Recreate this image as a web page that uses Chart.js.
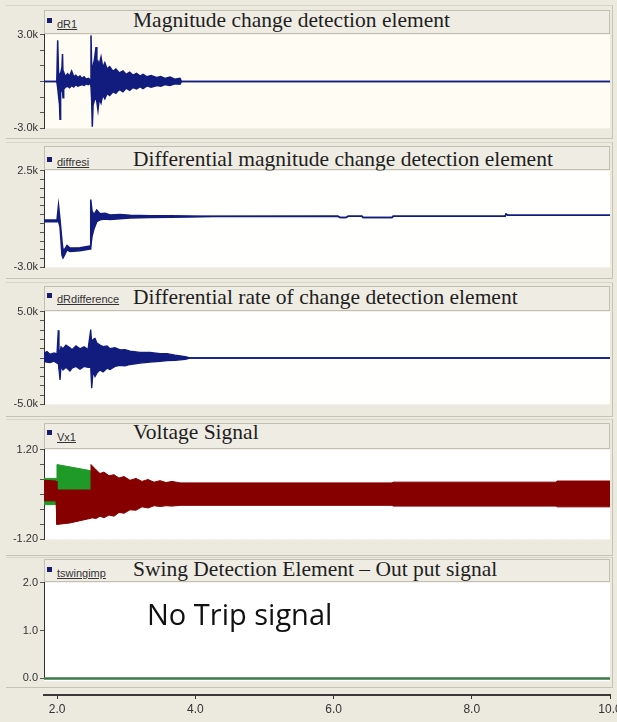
<!DOCTYPE html>
<html><head><meta charset="utf-8">
<script src="https://cdn.jsdelivr.net/npm/chart.js@4/dist/chart.umd.min.js"></script>
<style>
html,body{margin:0;padding:0;width:617px;height:722px;overflow:hidden;background:#ece9de;position:relative}
.frame{position:absolute;left:6px;width:607px;border-top:1px solid #d8d4c8;border-bottom:1px solid #c6c2b5;border-right:1px solid #c6c2b5;box-sizing:border-box}
.hdr{position:absolute;left:44px;width:566px;background:#efece4;border:1px solid #c2beb2;box-sizing:border-box}
.mark{position:absolute;left:47px;width:5px;height:5px;background:#1a1a70}
.leg{position:absolute;left:57px;font:11px 'Liberation Sans',Arial,sans-serif;line-height:11px;color:#333;text-decoration:underline;white-space:nowrap}
.title{position:absolute;left:133px;font:21.5px 'Liberation Serif','Times New Roman',serif;line-height:21.5px;color:#1e1e1e;white-space:nowrap}
.note{position:absolute;left:147px;top:599px;font:29px 'Open Sans',sans-serif;line-height:29px;color:#111;white-space:nowrap}
canvas{position:absolute;left:0}
</style>
</head><body>
<div class="frame" style="top:5px;height:134px"></div>
<div class="frame" style="top:142px;height:137px"></div>
<div class="frame" style="top:282px;height:135px"></div>
<div class="frame" style="top:419px;height:137px"></div>
<div class="frame" style="top:557px;height:131px"></div>

<div class="hdr" style="top:10px;height:24px"></div>
<div class="hdr" style="top:146px;height:24px"></div>
<div class="hdr" style="top:286px;height:25px"></div>
<div class="hdr" style="top:423px;height:26px"></div>
<div class="hdr" style="top:559px;height:23px"></div>

<div class="mark" style="top:18px"></div><div class="leg" style="top:19px">dR1</div>
<div class="title" style="top:10px">Magnitude change detection element</div>
<div class="mark" style="top:157px"></div><div class="leg" style="top:157px">diffresi</div>
<div class="title" style="top:149px">Differential magnitude change detection element</div>
<div class="mark" style="top:293px"></div><div class="leg" style="top:294px">dRdifference</div>
<div class="title" style="top:287px">Differential rate of change detection element</div>
<div class="mark" style="top:430px"></div><div class="leg" style="top:432px">Vx1</div>
<div class="title" style="top:422px">Voltage Signal</div>
<div class="mark" style="top:567px"></div><div class="leg" style="top:568px">tswingimp</div>
<div class="title" style="top:559px">Swing Detection Element – Out put signal</div>

<script>
// ---------------- DATA ----------------
const xMin = 1.81, xMax = 10.0;
const xTickValues = [2, 4, 6, 8, 10];
const xTickLabels = ['2.0', '4.0', '6.0', '8.0', '10.0'];

// Panel 1: dR1 (envelope of the oscillating trace)
const dR1Time  = [1.81, 1.995, 2.008, 2.02, 2.035, 2.042, 2.05, 2.07, 2.078, 2.085, 2.095, 2.12, 2.15, 2.18, 2.21, 2.24, 2.27, 2.30, 2.33, 2.36, 2.39, 2.42, 2.45, 2.48, 2.49, 2.50, 2.509, 2.52, 2.54, 2.563, 2.575, 2.591, 2.61, 2.635, 2.66, 2.69, 2.722, 2.76, 2.809, 2.85, 2.90, 2.953, 3.00, 3.05, 3.098, 3.15, 3.20, 3.243, 3.30, 3.36, 3.445, 3.50, 3.56, 3.634, 3.70, 3.778, 3.80, 10.0];
const dR1Upper = [0, 0, 2630, 600, 400, 300, 500, 900, 1760, 400, 600, 300, 500, 350, 670, 300, 400, 250, 350, 200, 300, 150, 200, 100, 2950, 800, 500, 1000, 1400, 2200, 1200, 1300, 1100, 1560, 900, 1200, 800, 950, 650, 800, 550, 670, 450, 600, 400, 520, 350, 460, 300, 380, 250, 320, 200, 280, 150, 200, 0, 0];
const dR1Lower = [0, 0, -400, -900, -1500, -2420, -700, -500, -600, -1040, -500, -350, -300, -400, -250, -350, -200, -300, -250, -200, -250, -150, -200, -100, -300, -1200, -2900, -1500, -1200, -1000, -1300, -1830, -1100, -1370, -850, -1100, -760, -900, -650, -750, -500, -650, -420, -560, -380, -480, -330, -450, -280, -360, -250, -300, -200, -260, -150, -170, 0, 0];
const dR1Ticks  = [-3000, -2000, -1000, 0, 1000, 2000, 3000];
const dR1Labels = ['-3.0k', '', '', '', '', '', '3.0k'];

// Panel 2: diffresi
const diffTime  = [1.81, 1.998, 2.020, 2.042, 2.070, 2.085, 2.114, 2.143, 2.186, 2.331, 2.476, 2.486, 2.505, 2.534, 2.573, 2.620, 2.693, 2.765, 2.910, 3.055, 3.344, 3.634, 3.923, 4.256, 6.065, 6.094, 6.180, 6.209, 6.412, 6.427, 6.846, 6.861, 8.481, 8.496, 8.525, 10.0];
const diffUpper = [-300, -300, 536, -300, -1500, -2000, -1950, -1750, -1900, -1880, -1780, 856, 200, 0, 256, 50, 80, -20, 0, -40, -60, -70, -80, -100, -100, -170, -170, -100, -100, -160, -160, -100, -100, 30, -30, -30];
const diffLower = [-400, -400, -380, -700, -2300, -2460, -2250, -2000, -2100, -2060, -1960, -1800, -1240, -800, -400, -300, -250, -280, -230, -200, -170, -150, -130, -110, -100, -170, -170, -100, -100, -160, -160, -100, -100, 30, -30, -30];
const diffTicks  = [-3000, -2500, -2000, -1500, -1000, -500, 0, 500, 1000, 1500, 2000, 2500];
const diffLabels = ['-3.0k', '', '', '', '', '', '', '', '', '', '', '2.5k'];

// Panel 3: dRdifference
const dRdTime  = [1.81, 1.853, 1.897, 1.955, 1.998, 2.017, 2.027, 2.042, 2.056, 2.085, 2.128, 2.186, 2.215, 2.273, 2.331, 2.389, 2.447, 2.486, 2.500, 2.519, 2.548, 2.577, 2.620, 2.664, 2.722, 2.765, 2.837, 2.910, 2.982, 3.055, 3.199, 3.344, 3.489, 3.590, 3.706, 3.851, 3.923, 10.0];
const dRdUpper = [500, 700, 400, 550, 450, 3000, 800, 600, 1200, 1000, 1400, 1100, 900, 1300, 1000, 1200, 900, 3070, 1500, 2000, 2110, 1600, 1400, 1230, 1300, 1000, 1100, 880, 900, 750, 600, 600, 460, 460, 300, 150, 0, 0];
const dRdLower = [-400, -450, -500, -350, -550, -600, -1200, -2360, -900, -1300, -1000, -1400, -1100, -900, -1200, -900, -1000, -1000, -3250, -1500, -2000, -1600, -1300, -1500, -1100, -1250, -900, -800, -850, -700, -550, -440, -350, -290, -250, -150, 0, 0];
const dRdTicks  = [-5000, -4000, -3000, -2000, -1000, 0, 1000, 2000, 3000, 4000, 5000];
const dRdLabels = ['-5.0k', '', '', '', '', '', '', '', '', '', '5.0k'];

// Panel 4: Vx1 (two phases, envelopes)
const redTime  = [1.81, 1.984, 1.998, 2.186, 2.331, 2.476, 2.490, 2.563, 2.620, 2.678, 2.751, 2.823, 2.895, 2.968, 3.055, 3.141, 3.228, 3.315, 3.402, 3.489, 3.576, 3.662, 3.778, 6.846, 6.861, 9.220, 9.234, 10.0];
const redUpper = [0.38, 0.36, 0.12, 0.12, 0.12, 0.12, 0.80, 0.66, 0.56, 0.60, 0.50, 0.53, 0.44, 0.48, 0.38, 0.43, 0.35, 0.40, 0.33, 0.37, 0.32, 0.35, 0.31, 0.31, 0.33, 0.33, 0.36, 0.36];
const redLower = [-0.17, -0.17, -0.80, -0.76, -0.70, -0.64, -0.62, -0.64, -0.58, -0.62, -0.55, -0.58, -0.48, -0.50, -0.41, -0.42, -0.33, -0.36, -0.30, -0.32, -0.30, -0.31, -0.29, -0.29, -0.31, -0.31, -0.33, -0.33];
const greenTime  = [1.81, 1.984, 1.998, 2.476, 2.490, 10.0];
const greenUpper = [0.43, 0.43, 0.80, 0.64, 0.25, 0.25];
const greenLower = [-0.27, -0.27, 0.0, 0.0, -0.25, -0.25];
const vTicks  = [-1.2, -0.8, -0.4, 0, 0.4, 0.8, 1.2];
const vLabels = ['-1.20', '', '', '', '', '', '1.20'];

// Panel 5: tswingimp
const swingTime  = [1.81, 10.0];
const swingValue = [0, 0];
const swingTicks  = [0, 1, 2];
const swingLabels = ['0.0', '1.0', '2.0'];

// ---------------- DRAWING ----------------
const NAVY = '#111c7e', RED = '#870000', GREEN = '#1f9a28', SWING = '#3a7a48';
const pts = (t, v) => t.map((x, i) => ({x: x, y: v[i]}));
function envelope(t, up, lo, color, bw) {
  return [
    {data: pts(t, up), borderColor: color, backgroundColor: color, borderWidth: bw, pointRadius: 0, fill: '+1', tension: 0},
    {data: pts(t, lo), borderColor: color, backgroundColor: color, borderWidth: bw, pointRadius: 0, fill: false, tension: 0}
  ];
}
const bgPlugin = {
  id: 'plotBg',
  beforeDraw(chart, args, opts) {
    const a = chart.chartArea, ctx = chart.ctx;
    ctx.save(); ctx.fillStyle = opts.color || '#fff';
    ctx.fillRect(a.left, a.top, a.right - a.left, a.bottom - a.top + (opts.extra || 0));
    ctx.restore();
  }
};
const tickFont = {family: "'Liberation Sans', Arial, sans-serif", size: 11};

function panel(top, bottom, datasets, yMin, yMax, ticks, labels, bg, extra) {
  const pad = 8;
  const c = document.createElement('canvas');
  c.width = 617; c.height = bottom - top + 2 * pad;
  c.style.top = (top - pad) + 'px';
  document.body.appendChild(c);
  new Chart(c, {
    type: 'line',
    data: {datasets: datasets},
    options: {
      responsive: false, animation: false, devicePixelRatio: 1,
      layout: {padding: {top: pad, bottom: pad, left: 0, right: 7}},
      plugins: {legend: {display: false}, tooltip: {enabled: false}, plotBg: {color: bg, extra: extra || 0}},
      scales: {
        x: {type: 'linear', min: xMin, max: xMax, display: false},
        y: {
          type: 'linear', min: yMin, max: yMax,
          afterBuildTicks: s => { s.ticks = ticks.map(v => ({value: v})); },
          afterFit: s => { s.width = 44; },
          ticks: {autoSkip: false, padding: 2, color: '#333', font: tickFont, callback: (v, i) => labels[i]},
          grid: {drawOnChartArea: false, drawTicks: true, tickLength: 4, color: '#555'},
          border: {display: true, color: '#333', width: 1}
        }
      }
    },
    plugins: [bgPlugin]
  });
}

panel(34, 129, envelope(dR1Time, dR1Upper, dR1Lower, NAVY, 1.5), -3000, 3000, dR1Ticks, dR1Labels, '#fffcf4');
panel(170, 268, envelope(diffTime, diffUpper, diffLower, NAVY, 1.5), -3000, 2500, diffTicks, diffLabels, '#fffffd');
panel(311, 405, envelope(dRdTime, dRdUpper, dRdLower, NAVY, 1.3), -5000, 5000, dRdTicks, dRdLabels, '#fffffd');
panel(449, 540, envelope(redTime, redUpper, redLower, RED, 1).concat(envelope(greenTime, greenUpper, greenLower, GREEN, 1)), -1.2, 1.2, vTicks, vLabels, '#ffffff');
panel(582, 679, [{data: pts(swingTime, swingValue), borderColor: SWING, borderWidth: 2.5, pointRadius: 0, fill: false, clip: false}], 0, 2, swingTicks, swingLabels, '#ffffff', 3);

// x axis strip
(function () {
  const c = document.createElement('canvas');
  c.width = 680; c.height = 34; c.style.top = '688px';
  document.body.appendChild(c);
  new Chart(c, {
    type: 'line',
    data: {datasets: [{data: []}]},
    options: {
      responsive: false, animation: false, devicePixelRatio: 1,
      layout: {padding: {top: 0, bottom: 0, left: 44, right: 70}},
      plugins: {legend: {display: false}, tooltip: {enabled: false}},
      scales: {
        y: {display: false},
        x: {
          type: 'linear', min: xMin, max: xMax,
          afterBuildTicks: s => { s.ticks = xTickValues.map(v => ({value: v})); },
          afterFit: s => { s.height = 27; },
          ticks: {autoSkip: false, maxRotation: 0, padding: 3, color: '#333',
                  font: {family: "'Liberation Sans Narrow', 'Liberation Sans', Arial, sans-serif", size: 12},
                  callback: (v, i) => xTickLabels[i]},
          grid: {drawOnChartArea: false, drawTicks: true, tickLength: 4, color: '#333'},
          border: {display: true, color: '#3a3a3a', width: 2}
        }
      }
    }
  });
})();
</script>
<div class="note">No Trip signal</div>
</body></html>
